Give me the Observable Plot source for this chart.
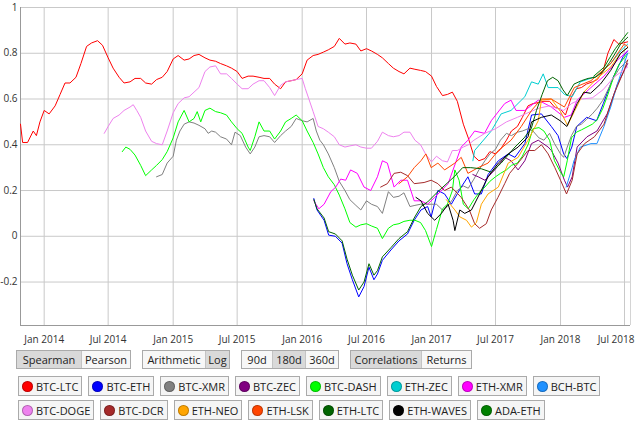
<!DOCTYPE html>
<html><head><meta charset="utf-8">
<script src="https://cdn.jsdelivr.net/npm/d3@7"></script>
<script src="https://cdn.jsdelivr.net/npm/@observablehq/plot@0.6"></script>
<style>
body{margin:0;background:#fff;font-family:"Open Sans",sans-serif;color:#222;}
#chart{position:absolute;left:0;top:0;}
#controls{position:absolute;left:16px;top:350px;display:flex;}
.grp{display:flex;border:1px solid #aaa;margin-right:11px;height:17px;}
.btn{font-size:11px;height:17px;line-height:17px;text-align:center;background:#f7f7f7;border-left:1px solid #c4c4c4;color:#222;white-space:nowrap;}
.btn:first-child{border-left:none;}
.btn.sel{background:#d9d9d9;}
.lrow{position:absolute;left:18px;display:flex;column-gap:6px;}
.item{display:flex;align-items:center;border:1px solid #aaa;background:#f5f5f5;height:18px;padding:0 3px 0 3px;font-size:11px;color:#222;white-space:nowrap;}
.dot{width:11px;height:11px;border-radius:50%;margin-right:3px;box-shadow:inset 0 0 0 1px rgba(0,0,0,0.25);}
</style></head>
<body>
<div id="chart"></div>
<div id="controls"></div>
<div id="legend1" class="lrow" style="top:376px"></div>
<div id="legend2" class="lrow" style="top:400px"></div>
<script>
// ---- data ----
const seriesNames = ["BTC-LTC","BTC-ETH","BTC-XMR","BTC-ZEC","BTC-DASH","ETH-ZEC","ETH-XMR","BCH-BTC","BTC-DOGE","BTC-DCR","ETH-NEO","ETH-LSK","ETH-LTC","ETH-WAVES","ADA-ETH"];
const seriesColors = ["#ff0000","#0000ff","#808080","#800080","#00ff00","#00ced1","#ff00ff","#1e90ff","#ee82ee","#a52a2a","#ffa500","#ff4500","#006400","#000000","#008000"];

const btcLtc = [["2013-10-26",.49],["2013-11-01",.41],["2013-11-15",.41],["2013-12-01",.46],["2013-12-10",.44],["2013-12-20",.50],["2014-01-01",.55],["2014-01-15",.535],["2014-02-01",.57],["2014-02-15",.62],["2014-03-01",.67],["2014-03-15",.67],["2014-04-01",.695],["2014-04-15",.755],["2014-05-01",.83],["2014-05-15",.845],["2014-06-01",.855],["2014-06-15",.835],["2014-07-01",.78],["2014-07-15",.735],["2014-08-01",.695],["2014-08-15",.67],["2014-09-01",.675],["2014-09-15",.69],["2014-10-01",.69],["2014-10-15",.67],["2014-11-01",.665],["2014-11-15",.685],["2014-12-01",.695],["2014-12-15",.72],["2015-01-01",.775],["2015-01-15",.79],["2015-02-01",.77],["2015-02-15",.775],["2015-03-01",.79],["2015-03-15",.795],["2015-04-01",.78],["2015-04-15",.77],["2015-05-01",.765],["2015-05-15",.755],["2015-06-01",.745],["2015-06-15",.735],["2015-07-01",.72],["2015-07-15",.69],["2015-08-01",.70],["2015-08-15",.70],["2015-09-01",.695],["2015-09-15",.69],["2015-10-01",.69],["2015-10-15",.665],["2015-11-01",.645],["2015-11-15",.675],["2015-12-01",.68],["2015-12-15",.685],["2016-01-01",.71],["2016-01-15",.77],["2016-02-01",.79],["2016-02-15",.795],["2016-03-01",.805],["2016-03-15",.815],["2016-04-01",.83],["2016-04-15",.865],["2016-05-01",.84],["2016-05-15",.845],["2016-06-01",.84],["2016-06-15",.81],["2016-07-01",.82],["2016-07-15",.81],["2016-08-01",.795],["2016-08-15",.78],["2016-09-01",.755],["2016-09-15",.735],["2016-10-01",.72],["2016-10-15",.71],["2016-11-01",.735],["2016-11-15",.73],["2016-12-01",.725],["2016-12-15",.72],["2017-01-01",.70],["2017-01-15",.655],["2017-02-01",.615],["2017-02-15",.62],["2017-03-01",.63],["2017-03-15",.59],["2017-04-01",.49],["2017-04-15",.43],["2017-05-01",.35],["2017-05-15",.33],["2017-06-01",.34],["2017-06-15",.37],["2017-07-01",.36],["2017-07-15",.38],["2017-08-01",.42],["2017-08-15",.46],["2017-09-01",.48],["2017-09-15",.52],["2017-10-01",.57],["2017-10-15",.58],["2017-11-01",.585],["2017-11-15",.59],["2017-12-01",.59],["2017-12-15",.565],["2018-01-01",.555],["2018-01-15",.53],["2018-02-01",.61],["2018-02-15",.645],["2018-03-01",.65],["2018-03-15",.665],["2018-04-01",.675],["2018-04-15",.685],["2018-05-01",.72],["2018-05-15",.80],["2018-06-01",.86],["2018-06-15",.84],["2018-07-10",.85]];

const btcEth = [["2016-02-03",.165],["2016-02-12",.115],["2016-03-03",.07],["2016-03-16",.005],["2016-04-04",0],["2016-04-23",-.03],["2016-05-07",-.12],["2016-05-22",-.19],["2016-06-09",-.265],["2016-06-24",-.22],["2016-07-08",-.135],["2016-07-22",-.19],["2016-08-01",-.165],["2016-08-15",-.105],["2016-09-08",-.06],["2016-10-01",-.02],["2016-10-25",.01],["2016-11-13",.07],["2016-12-02",.115],["2016-12-21",.13],["2016-12-31",.085],["2017-01-19",.20],["2017-02-07",.185],["2017-02-26",.14],["2017-03-26",.215],["2017-04-14",.26],["2017-05-03",.185],["2017-05-22",.185],["2017-06-10",.27],["2017-07-09",.33],["2017-08-06",.36],["2017-08-25",.345],["2017-09-22",.405],["2017-10-11",.53],["2017-11-08",.535],["2017-12-06",.48],["2017-12-25",.44],["2018-01-10",.36],["2018-01-19",.34],["2018-02-02",.39],["2018-02-16",.48],["2018-03-16",.52],["2018-04-13",.505],["2018-05-02",.58],["2018-05-30",.695],["2018-06-27",.785],["2018-07-10",.81]];

const btcXmr = [["2014-11-15",.26],["2014-12-01",.27],["2014-12-15",.32],["2015-01-01",.35],["2015-01-10",.42],["2015-01-20",.46],["2015-02-01",.49],["2015-02-15",.50],["2015-03-01",.495],["2015-03-15",.485],["2015-04-01",.47],["2015-04-10",.45],["2015-04-20",.46],["2015-05-01",.455],["2015-05-15",.435],["2015-06-01",.425],["2015-06-15",.40],["2015-06-25",.455],["2015-07-10",.44],["2015-07-25",.39],["2015-08-07",.36],["2015-08-20",.39],["2015-09-01",.435],["2015-09-15",.44],["2015-10-01",.435],["2015-10-15",.41],["2015-11-01",.44],["2015-11-15",.46],["2015-12-01",.48],["2015-12-15",.515],["2016-01-01",.505],["2016-01-15",.50],["2016-02-01",.515],["2016-02-10",.46],["2016-02-20",.42],["2016-03-01",.40],["2016-03-15",.36],["2016-04-01",.30],["2016-04-15",.24],["2016-05-01",.20],["2016-05-15",.16],["2016-06-01",.135],["2016-06-15",.115],["2016-07-01",.155],["2016-07-15",.14],["2016-08-01",.13],["2016-08-15",.10],["2016-09-01",.195],["2016-09-15",.17],["2016-10-01",.175],["2016-10-15",.19],["2016-11-01",.13],["2016-11-15",.135],["2016-12-01",.14],["2016-12-15",.14],["2017-01-01",.14],["2017-01-15",.14],["2017-02-01",.115],["2017-02-15",.13],["2017-03-01",.16],["2017-03-15",.20],["2017-04-01",.22],["2017-04-15",.21],["2017-05-01",.25],["2017-05-15",.29],["2017-06-01",.33],["2017-06-15",.36],["2017-07-01",.38],["2017-07-15",.42],["2017-08-01",.45],["2017-08-15",.44],["2017-09-01",.455],["2017-09-15",.46],["2017-10-01",.47],["2017-10-15",.46],["2017-11-01",.43],["2017-11-15",.42],["2017-12-01",.45],["2017-12-15",.405],["2018-01-01",.36],["2018-01-10",.345],["2018-01-20",.39],["2018-02-01",.44],["2018-02-15",.48],["2018-03-01",.49],["2018-03-15",.51],["2018-04-01",.535],["2018-04-15",.56],["2018-05-01",.595],["2018-05-15",.64],["2018-06-01",.695],["2018-06-15",.73],["2018-07-10",.77]];

const btcZec = [["2017-04-28",.27],["2017-05-13",.26],["2017-06-01",.245],["2017-06-29",.29],["2017-07-27",.345],["2017-08-14",.33],["2017-09-03",.29],["2017-09-22",.33],["2017-10-11",.405],["2017-10-30",.42],["2017-11-27",.39],["2017-12-06",.375],["2017-12-25",.32],["2018-01-12",.245],["2018-01-21",.215],["2018-02-03",.26],["2018-02-17",.39],["2018-03-17",.435],["2018-04-14",.46],["2018-05-13",.535],["2018-06-11",.665],["2018-07-10",.755]];

const btcDash = [["2014-08-10",.37],["2014-08-20",.39],["2014-09-01",.38],["2014-09-15",.355],["2014-10-01",.31],["2014-10-15",.265],["2014-11-01",.29],["2014-11-15",.31],["2014-12-01",.335],["2014-12-15",.37],["2015-01-01",.43],["2015-01-15",.50],["2015-02-01",.55],["2015-02-15",.50],["2015-03-01",.515],["2015-03-10",.545],["2015-03-20",.50],["2015-04-01",.55],["2015-04-15",.56],["2015-05-01",.545],["2015-05-15",.54],["2015-06-01",.53],["2015-06-15",.50],["2015-07-01",.47],["2015-07-15",.45],["2015-08-01",.39],["2015-08-07",.375],["2015-08-20",.435],["2015-09-01",.50],["2015-09-15",.46],["2015-10-01",.46],["2015-10-15",.425],["2015-11-01",.46],["2015-11-15",.50],["2015-12-01",.515],["2015-12-15",.53],["2016-01-01",.505],["2016-01-15",.46],["2016-02-01",.41],["2016-02-15",.36],["2016-03-01",.30],["2016-03-15",.26],["2016-04-01",.225],["2016-04-15",.18],["2016-05-01",.12],["2016-05-15",.06],["2016-06-01",.04],["2016-06-15",.05],["2016-07-01",.055],["2016-07-15",.045],["2016-08-01",.035],["2016-08-15",-.01],["2016-09-01",.035],["2016-09-15",.05],["2016-10-01",.055],["2016-10-15",.065],["2016-11-01",.07],["2016-11-15",.07],["2016-12-01",.06],["2016-12-15",.025],["2017-01-01",-.045],["2017-01-15",.03],["2017-02-01",.12],["2017-02-15",.14],["2017-03-01",.20],["2017-03-08",.29],["2017-03-20",.245],["2017-04-01",.14],["2017-04-15",.12],["2017-05-01",.16],["2017-05-15",.19],["2017-06-01",.215],["2017-06-15",.24],["2017-07-01",.26],["2017-07-15",.275],["2017-08-01",.29],["2017-08-15",.31],["2017-09-01",.32],["2017-09-15",.35],["2017-10-01",.40],["2017-10-15",.47],["2017-11-01",.475],["2017-11-15",.46],["2017-12-01",.42],["2017-12-15",.33],["2018-01-01",.28],["2018-01-10",.26],["2018-01-20",.33],["2018-02-01",.43],["2018-02-15",.455],["2018-03-01",.465],["2018-04-01",.49],["2018-04-15",.51],["2018-05-01",.56],["2018-05-15",.62],["2018-06-01",.70],["2018-06-15",.75],["2018-07-10",.80]];

const ethZec = [["2017-04-28",.33],["2017-05-03",.375],["2017-06-19",.46],["2017-07-17",.535],["2017-08-14",.55],["2017-09-22",.61],["2017-10-11",.675],["2017-10-30",.665],["2017-11-13",.71],["2017-11-27",.65],["2017-12-25",.65],["2018-01-12",.62],["2018-02-03",.61],["2018-02-26",.675],["2018-04-14",.70],["2018-05-23",.755],["2018-06-20",.81],["2018-07-10",.84]];

const ethXmr = [["2016-02-03",.155],["2016-02-17",.12],["2016-03-03",.14],["2016-03-22",.195],["2016-04-05",.215],["2016-04-19",.25],["2016-05-03",.245],["2016-05-17",.29],["2016-06-05",.275],["2016-06-24",.215],["2016-07-13",.20],["2016-08-01",.26],["2016-08-15",.33],["2016-08-29",.32],["2016-09-17",.215],["2016-10-06",.245],["2016-10-25",.245],["2016-11-13",.155],["2016-12-02",.155],["2016-12-21",.14],["2017-01-10",.17],["2017-02-17",.23],["2017-03-26",.39],["2017-04-14",.42],["2017-05-03",.46],["2017-05-31",.45],["2017-06-19",.505],["2017-07-27",.58],["2017-08-14",.595],["2017-08-28",.55],["2017-09-22",.55],["2017-10-30",.595],["2017-12-06",.565],["2018-01-12",.52],["2018-01-31",.53],["2018-02-17",.595],["2018-03-28",.65],["2018-05-04",.70],["2018-06-11",.77],["2018-07-10",.81]];

const bchBtc = [["2018-01-17",.215],["2018-02-03",.30],["2018-02-08",.33],["2018-02-26",.39],["2018-03-28",.405],["2018-04-14",.405],["2018-05-04",.48],["2018-05-23",.565],["2018-06-11",.665],["2018-07-10",.80]];

const btcDoge = [["2014-06-20",.45],["2014-07-01",.48],["2014-07-15",.515],["2014-08-01",.53],["2014-08-15",.55],["2014-09-01",.565],["2014-09-10",.575],["2014-09-20",.55],["2014-10-01",.52],["2014-10-15",.46],["2014-11-01",.415],["2014-11-15",.405],["2014-12-01",.40],["2014-12-15",.46],["2015-01-01",.54],["2015-01-15",.58],["2015-02-01",.605],["2015-02-15",.61],["2015-03-01",.63],["2015-03-15",.65],["2015-04-01",.72],["2015-04-15",.74],["2015-05-01",.745],["2015-05-15",.71],["2015-06-01",.71],["2015-06-15",.69],["2015-07-01",.665],["2015-07-15",.645],["2015-08-01",.645],["2015-08-15",.665],["2015-09-01",.68],["2015-09-15",.68],["2015-10-01",.65],["2015-10-15",.615],["2015-11-01",.66],["2015-11-15",.675],["2015-12-01",.68],["2015-12-15",.685],["2016-01-01",.69],["2016-01-10",.645],["2016-01-20",.60],["2016-02-01",.545],["2016-02-15",.48],["2016-03-01",.47],["2016-03-15",.455],["2016-04-01",.435],["2016-04-15",.40],["2016-05-01",.39],["2016-05-15",.395],["2016-06-01",.40],["2016-06-15",.39],["2016-07-01",.385],["2016-07-15",.385],["2016-08-01",.415],["2016-08-15",.455],["2016-09-01",.44],["2016-09-15",.435],["2016-10-01",.44],["2016-10-15",.455],["2016-11-01",.455],["2016-11-15",.42],["2016-12-01",.40],["2016-12-15",.36],["2017-01-01",.325],["2017-01-15",.35],["2017-02-01",.33],["2017-02-15",.325],["2017-03-01",.375],["2017-03-15",.375],["2017-04-01",.39],["2017-04-15",.40],["2017-05-01",.42],["2017-06-01",.45],["2017-07-01",.47],["2017-08-01",.50],["2017-09-01",.52],["2017-10-01",.54],["2017-11-01",.56],["2017-12-01",.57],["2017-12-20",.56],["2018-01-10",.55],["2018-02-01",.58],["2018-03-01",.60],["2018-04-01",.605],["2018-05-01",.64],["2018-06-01",.695],["2018-07-10",.74]];

const btcDcr = [["2016-08-10",.215],["2016-08-29",.23],["2016-09-17",.275],["2016-10-06",.28],["2016-10-25",.265],["2016-11-13",.23],["2016-12-11",.235],["2016-12-31",.245],["2017-01-19",.23],["2017-02-07",.20],["2017-02-26",.215],["2017-03-26",.17],["2017-04-18",.115],["2017-05-03",.055],["2017-05-17",.035],["2017-06-05",.055],["2017-06-19",.115],["2017-07-08",.17],["2017-07-27",.23],["2017-08-10",.275],["2017-09-03",.32],["2017-10-01",.375],["2017-10-20",.375],["2017-11-08",.40],["2017-11-27",.36],["2017-12-16",.30],["2018-01-01",.245],["2018-01-18",.185],["2018-02-03",.245],["2018-02-17",.36],["2018-03-10",.405],["2018-04-07",.435],["2018-05-04",.49],["2018-06-01",.62],["2018-06-30",.725],["2018-07-10",.77]];

const ethNeo = [["2017-02-12",.16],["2017-03-08",.115],["2017-03-22",.085],["2017-04-10",.07],["2017-04-24",.04],["2017-05-08",.06],["2017-05-22",.14],["2017-06-10",.185],["2017-07-09",.215],["2017-08-06",.32],["2017-09-03",.345],["2017-10-01",.42],["2017-10-30",.505],["2017-11-08",.595],["2017-12-06",.60],["2018-01-01",.545],["2018-01-21",.485],["2018-02-09",.545],["2018-03-08",.63],["2018-04-14",.69],["2018-05-23",.74],["2018-06-20",.80],["2018-07-10",.825]];

const ethLsk = [["2016-10-01",.23],["2016-10-25",.26],["2016-11-13",.30],["2016-12-02",.33],["2016-12-16",.36],["2016-12-31",.30],["2017-01-19",.32],["2017-02-07",.29],["2017-03-08",.32],["2017-03-26",.345],["2017-04-14",.275],["2017-05-13",.30],["2017-06-10",.32],["2017-07-09",.375],["2017-08-14",.42],["2017-09-12",.48],["2017-10-11",.55],["2017-11-08",.60],["2017-12-06",.60],["2018-01-12",.565],["2018-02-09",.65],["2018-03-28",.68],["2018-05-23",.755],["2018-06-30",.84],["2018-07-10",.83]];

const ethLtc = [["2016-02-03",.16],["2016-02-12",.12],["2016-03-03",.08],["2016-03-16",.02],["2016-04-04",.01],["2016-04-23",-.02],["2016-05-07",-.10],["2016-05-22",-.17],["2016-06-09",-.235],["2016-06-24",-.20],["2016-07-08",-.12],["2016-07-22",-.17],["2016-08-01",-.15],["2016-08-15",-.09],["2016-09-08",-.05],["2016-10-01",-.01],["2016-10-25",.02],["2016-11-13",.08],["2016-12-02",.13],["2016-12-21",.15],["2017-01-19",.195],["2017-03-06",.26],["2017-03-30",.30],["2017-04-22",.30],["2017-05-22",.295],["2017-06-19",.28],["2017-07-17",.32],["2017-08-25",.39],["2017-09-20",.43],["2017-10-10",.47],["2017-10-25",.55],["2017-11-10",.62],["2017-11-25",.68],["2017-12-10",.695],["2017-12-25",.68],["2018-01-08",.64],["2018-01-20",.615],["2018-02-08",.665],["2018-03-01",.68],["2018-03-20",.69],["2018-04-10",.695],["2018-05-01",.72],["2018-05-20",.76],["2018-06-05",.80],["2018-06-20",.84],["2018-07-10",.87]];

const ethWaves = [["2016-11-18",.17],["2016-12-02",.155],["2016-12-21",.10],["2017-01-10",.07],["2017-01-29",.10],["2017-02-17",.14],["2017-03-03",.07],["2017-03-08",.025],["2017-03-22",.115],["2017-04-05",.10],["2017-04-24",.115],["2017-05-17",.185],["2017-06-10",.26],["2017-07-09",.32],["2017-08-06",.36],["2017-09-03",.39],["2017-10-01",.435],["2017-10-11",.50],["2017-11-08",.52],["2017-12-06",.53],["2017-12-31",.505],["2018-01-19",.48],["2018-02-17",.58],["2018-03-08",.63],["2018-03-27",.625],["2018-04-24",.665],["2018-05-23",.725],["2018-06-20",.80],["2018-07-10",.825]];

const adaEth = [["2018-04-05",.70],["2018-04-20",.72],["2018-05-05",.74],["2018-05-20",.78],["2018-06-05",.82],["2018-06-20",.85],["2018-07-10",.89]];

const seriesData = [btcLtc,btcEth,btcXmr,btcZec,btcDash,ethZec,ethXmr,bchBtc,btcDoge,btcDcr,ethNeo,ethLsk,ethLtc,ethWaves,adaEth];

const yTicks = [-0.2,0,0.2,0.4,0.6,0.8,1];
const xTickDates = ["2014-01-01","2014-07-01","2015-01-01","2015-07-01","2016-01-01","2016-07-01","2017-01-01","2017-07-01","2018-01-01","2018-07-01"];
const xDomain = ["2013-10-26","2018-07-18"];
const yDomain = [-0.39, 1];

const buttonGroups = [
  [["Spearman",true],["Pearson",false]],
  [["Arithmetic",false],["Log",true]],
  [["90d",false],["180d",true],["360d",false]],
  [["Correlations",true],["Returns",false]]
];
const buttonWidths = [[64,48],[62,23],[30,32,32],[70,49]];

// ---- build ----
const rows = [];
seriesData.forEach((arr, i) => arr.forEach(([d, v]) => rows.push({pair: seriesNames[i], date: new Date(d), value: v})));
const xTicks = xTickDates.map(d => new Date(d));
const xTicksMain = xTicks.slice(0, -1);
const xTicksLast = xTicks.slice(-1);
const fmt = d3.utcFormat("%b %Y");
const axisFont = {fontSize: 10};

const chart = Plot.plot({
  width: 640,
  height: 348,
  marginLeft: 20,
  marginRight: 10,
  marginTop: 7,
  marginBottom: 23,
  style: {fontFamily: "'Open Sans', sans-serif", fontSize: "10px", color: "#333", background: "white"},
  x: {type: "utc", domain: xDomain.map(d => new Date(d)), label: null},
  y: {domain: yDomain, label: null},
  color: {domain: seriesNames, range: seriesColors},
  marks: [
    Plot.gridX(xTicks, {stroke: "#c9c9c9", strokeOpacity: 1}),
    Plot.gridY(yTicks, {stroke: "#c9c9c9", strokeOpacity: 1}),
    Plot.ruleX([xDomain[1]].map(d => new Date(d)), {stroke: "#d4d4d4"}),
    Plot.ruleY([yDomain[1]], {stroke: "#c9c9c9"}),
    Plot.ruleX([xDomain[0]].map(d => new Date(d)), {stroke: "#999"}),
    Plot.ruleY([yDomain[0]], {stroke: "#999"}),
    Plot.axisY(yTicks, {tickSize: 0, tickPadding: 3, tickFormat: d => String(+d.toFixed(1)), label: null, ...axisFont, letterSpacing: "-0.3px"}),
    Plot.axisX(xTicksMain, {tickSize: 0, tickPadding: 10, tickFormat: fmt, label: null, ...axisFont}),
    Plot.axisX(xTicksLast, {tickSize: 0, tickPadding: 10, tickFormat: fmt, label: null, textAnchor: "end", dx: 10, ...axisFont}),
    Plot.line(rows, {x: "date", y: "value", z: "pair", stroke: "pair", strokeWidth: 1, curve: "linear"})
  ]
});
document.getElementById("chart").appendChild(chart);

const controls = document.getElementById("controls");
buttonGroups.forEach((g, gi) => {
  const grp = document.createElement("div");
  grp.className = "grp";
  g.forEach(([label, sel], bi) => {
    const b = document.createElement("div");
    b.className = "btn" + (sel ? " sel" : "");
    b.style.width = buttonWidths[gi][bi] + "px";
    b.textContent = label;
    grp.appendChild(b);
  });
  controls.appendChild(grp);
});

seriesNames.forEach((name, i) => {
  const it = document.createElement("div");
  it.className = "item";
  const dot = document.createElement("span");
  dot.className = "dot";
  dot.style.background = seriesColors[i];
  it.appendChild(dot);
  const t = document.createElement("span");
  t.textContent = name;
  it.appendChild(t);
  document.getElementById(i < 8 ? "legend1" : "legend2").appendChild(it);
});
</script>
</body></html>
